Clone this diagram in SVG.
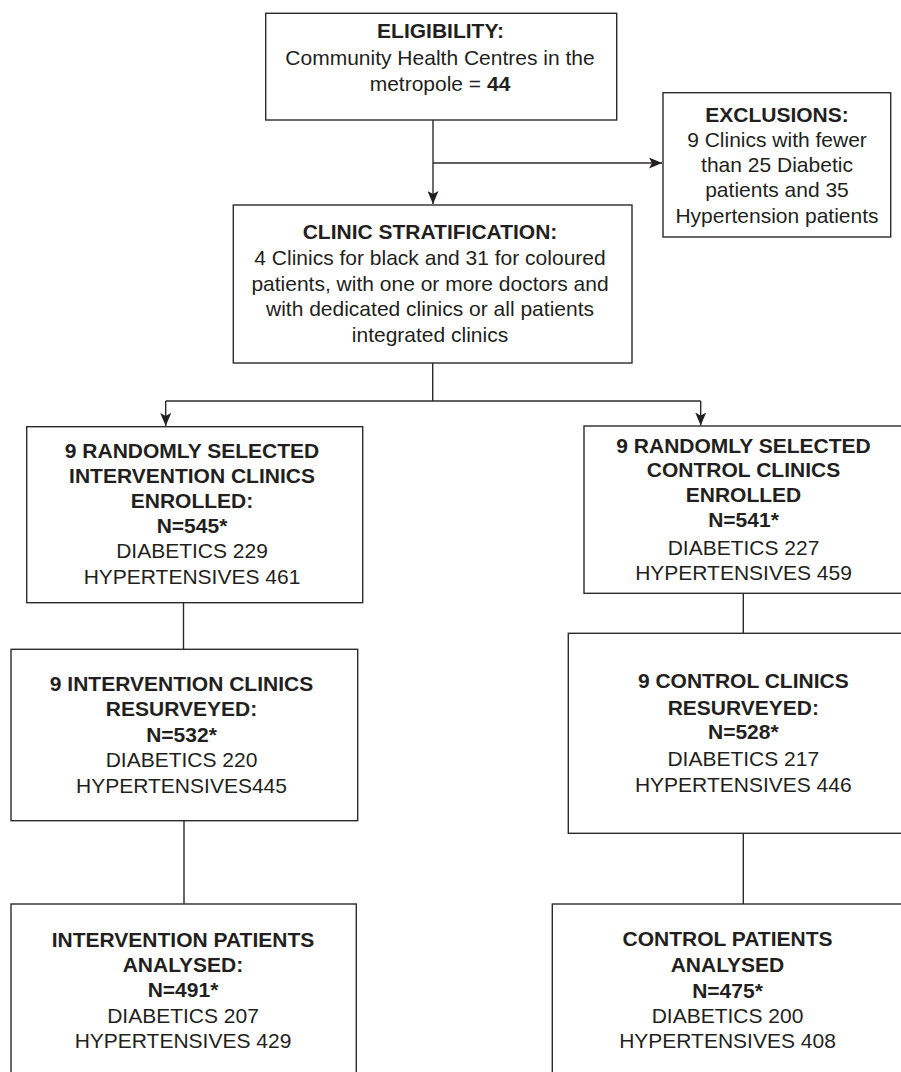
<svg xmlns="http://www.w3.org/2000/svg" width="901" height="1072" viewBox="0 0 901 1072">
<defs>
<marker id="arr" markerWidth="13" markerHeight="11" refX="13" refY="5.5" orient="auto" markerUnits="userSpaceOnUse">
<path d="M0,0 L13,5.5 L0,11 L3,5.5 z" fill="#231f20"/>
</marker>
<style>
.box{fill:#fff;stroke:#2b2b2b;stroke-width:1.4}
.ln{fill:none;stroke:#2b2b2b;stroke-width:1.4}
text{font-family:"Liberation Sans",Arial,Helvetica,sans-serif;font-size:21px;fill:#231f20;text-anchor:middle}
.b{font-weight:bold}
</style>
</defs>
<rect x="0" y="0" width="901" height="1072" fill="#fff"/>
<g id="connectors">
<path class="ln" d="M433,120 V204" marker-end="url(#arr)"/>
<path class="ln" d="M433,163 H662" marker-end="url(#arr)"/>
<path class="ln" d="M432.7,363 V401"/>
<path class="ln" d="M165.7,401 H700.7"/>
<path class="ln" d="M165.7,401 V426" marker-end="url(#arr)"/>
<path class="ln" d="M700.7,401 V425.5" marker-end="url(#arr)"/>
<path class="ln" d="M183.5,602.7 V649.3"/>
<path class="ln" d="M184,820.7 V904"/>
<path class="ln" d="M743.3,593.3 V633.3"/>
<path class="ln" d="M743.3,833.3 V904"/>
</g>
<g id="eligibility">
<rect class="box" x="265.7" y="13.3" width="351" height="106.7"/>
<text x="440.5" y="38" class="b">ELIGIBILITY:</text>
<text x="440" y="65">Community Health Centres in the</text>
<text x="440" y="91">metropole = <tspan class="b">44</tspan></text>
</g>
<g id="exclusions">
<rect class="box" x="663" y="92.7" width="227.7" height="144.3"/>
<text x="777" y="121.7" class="b">EXCLUSIONS:</text>
<text x="777" y="146.7">9 Clinics with fewer</text>
<text x="777" y="172.3">than 25 Diabetic</text>
<text x="777" y="197.3">patients and 35</text>
<text x="777" y="222.7">Hypertension patients</text>
</g>
<g id="stratification">
<rect class="box" x="233.3" y="205" width="398.7" height="158"/>
<text x="430" y="239.3" class="b">CLINIC STRATIFICATION:</text>
<text x="430" y="265">4 Clinics for black and 31 for coloured</text>
<text x="430" y="290.7">patients, with one or more doctors and</text>
<text x="430" y="316">with dedicated clinics or all patients</text>
<text x="430" y="341.7">integrated clinics</text>
</g>
<g id="intervention-enrolled">
<rect class="box" x="26.7" y="426.7" width="336" height="176"/>
<text x="192" y="458.3" class="b">9 RANDOMLY SELECTED</text>
<text x="192" y="483.3" class="b">INTERVENTION CLINICS</text>
<text x="192" y="508.3" class="b">ENROLLED:</text>
<text x="192" y="533.3" class="b">N=545*</text>
<text x="192" y="558.3">DIABETICS 229</text>
<text x="192" y="584">HYPERTENSIVES 461</text>
</g>
<g id="control-enrolled">
<rect class="box" x="584" y="426" width="330" height="167.3"/>
<text x="743.5" y="452.7" class="b">9 RANDOMLY SELECTED</text>
<text x="743.5" y="477.3" class="b">CONTROL CLINICS</text>
<text x="743.5" y="502.3" class="b">ENROLLED</text>
<text x="743.5" y="526.7" class="b">N=541*</text>
<text x="743.5" y="555">DIABETICS 227</text>
<text x="743.5" y="580">HYPERTENSIVES 459</text>
</g>
<g id="intervention-resurveyed">
<rect class="box" x="11" y="649.3" width="346.7" height="171.4"/>
<text x="181.5" y="690.7" class="b">9 INTERVENTION CLINICS</text>
<text x="181.5" y="716" class="b">RESURVEYED:</text>
<text x="181.5" y="741.7" class="b">N=532*</text>
<text x="181.5" y="766.7">DIABETICS 220</text>
<text x="181.5" y="792.7">HYPERTENSIVES445</text>
</g>
<g id="control-resurveyed">
<rect class="box" x="568.3" y="633.3" width="345" height="200"/>
<text x="743.3" y="688.3" class="b">9 CONTROL CLINICS</text>
<text x="743.3" y="715" class="b">RESURVEYED:</text>
<text x="743.3" y="739.3" class="b">N=528*</text>
<text x="743.3" y="765.7">DIABETICS 217</text>
<text x="743.3" y="791.7">HYPERTENSIVES 446</text>
</g>
<g id="intervention-analysed">
<rect class="box" x="11" y="904" width="345.3" height="190"/>
<text x="183" y="946.7" class="b">INTERVENTION PATIENTS</text>
<text x="183" y="972.3" class="b">ANALYSED:</text>
<text x="183" y="997.3" class="b">N=491*</text>
<text x="183" y="1022.7">DIABETICS 207</text>
<text x="183" y="1048.3">HYPERTENSIVES 429</text>
</g>
<g id="control-analysed">
<rect class="box" x="552.3" y="904" width="360" height="190"/>
<text x="727.5" y="946" class="b">CONTROL PATIENTS</text>
<text x="727.5" y="971.7" class="b">ANALYSED</text>
<text x="727.5" y="997.7" class="b">N=475*</text>
<text x="727.5" y="1023.3">DIABETICS 200</text>
<text x="727.5" y="1048.3">HYPERTENSIVES 408</text>
</g>
</svg>
